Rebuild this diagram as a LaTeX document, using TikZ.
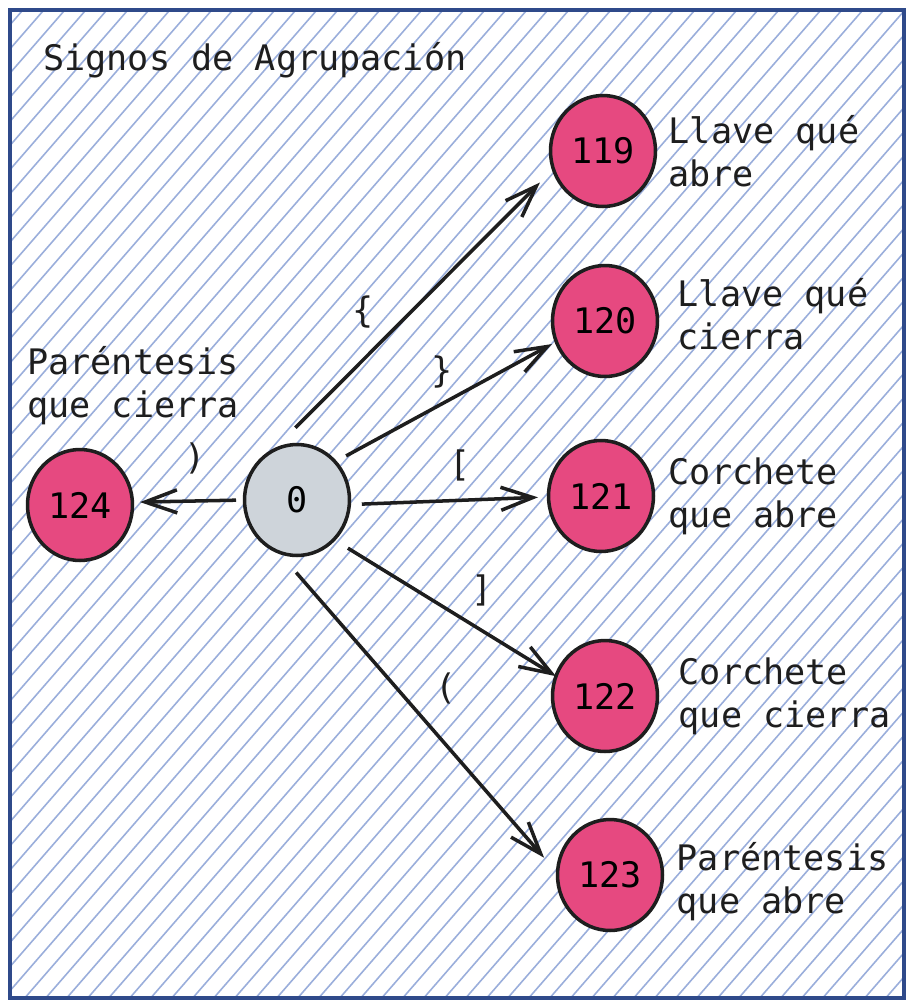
\documentclass[tikz,border=0pt]{standalone}
\usepackage{fontspec}
\setmonofont{DejaVu Sans Mono}
\usepackage{xcolor}
\usepackage{tikz}
\usetikzlibrary{positioning,arrows.meta,shapes.geometric}
\definecolor{ink}{HTML}{1E1E1E}
\definecolor{frameblue}{HTML}{2F4A8A}
\definecolor{hatchblue}{HTML}{9AAEDB}
\definecolor{signpink}{HTML}{E64980}
\definecolor{startgray}{HTML}{CED4DA}
\tikzset{
    statenode/.style={
        ellipse, draw=ink, fill=signpink, line width=2pt,
        minimum width=2.1cm, minimum height=2.22cm, inner sep=0pt, outer sep=0pt,
        font=\ttfamily\fontsize{20}{24}\selectfont
    },
    startnode/.style={statenode, fill=startgray},
    desc/.style={
        inner sep=0pt, align=left, text=ink,
        font=\ttfamily\fontsize{20}{24.5}\selectfont
    },
    sign/.style={inner sep=0pt, text=ink, font=\ttfamily\fontsize{20}{24}\selectfont},
    arrow/.style={-{Straight Barb[length=0.64cm, width=0.46cm]}, line width=2pt, color=ink},
}

\begin{document}
\begin{tikzpicture}[x=0.02cm, y=-0.02cm]
    \useasboundingbox (0,0) rectangle (914,1008);
    \fill[white] (0,0) rectangle (914,1008);
    \begin{scope}
        \clip (10,10) rectangle (904,998);
        \foreach \hx in {-880,-859,...,920}
            \draw[hatchblue, line width=0.9pt] (\hx,1000) -- ++(900,-1035);
    \end{scope}
    \draw[frameblue, line width=2pt] (10,10) rectangle (904,998);

    \node[desc, anchor=west] (title) at (43,60) {Signos de Agrupación};

    \node[startnode] (n0) at (297,500) {0};
    \node[statenode] (n119) at (603,151) {119};
    \node[statenode] (n120) at (605,321) {120};
    \node[statenode] (n121) at (601,496) {121};
    \node[statenode] (n122) at (605,696) {122};
    \node[statenode] (n123) at (610,875) {123};
    \node[statenode] (n124) at (80,505) {124};

    \node[desc, right=0.26cm of n119] (l119) {Llave qué\\abre};
    \node[desc, right=0.40cm of n120, yshift=0.14cm] (l120) {Llave qué\\cierra};
    \node[desc, right=0.3cm of n121] (l121) {Corchete\\que abre};
    \node[desc, right=0.42cm of n122] (l122) {Corchete\\que cierra};
    \node[desc, right=0.28cm of n123, yshift=-0.14cm] (l123) {Paréntesis\\que abre};
    \node[desc, anchor=west] (l124) at (27,386) {Paréntesis\\que cierra};

    \draw[arrow, shorten <=0.66cm, shorten >=0.38cm] (n0.117.5) -- (n119.200.4);
    \draw[arrow, shorten <=0.25cm, shorten >=0.1cm] (n0.45) -- (n120.203);
    \draw[arrow, shorten <=0.25cm, shorten >=0.21cm] (n0.355.2) -- (n121.181.7);
    \draw[arrow, shorten <=0.33cm] (n0.313.3) -- (n122.158.4);
    \draw[arrow, shorten <=0.55cm, shorten >=0.41cm] (n0.250.8) -- (n123.178.5);
    \draw[arrow, shorten <=0.17cm, shorten >=0.15cm] (n0.180) -- (n124.3);

    \node[sign] (lbrace) at (363,312) {\{};
    \node[sign] (rbrace) at (442,372) {\}};
    \node[sign] (lbrack) at (460,465) {[};
    \node[sign] (rbrack) at (482,590) {]};
    \node[sign] (lparen) at (446,688) {(};
    \node[sign] (rparen) at (195,458) {)};
\end{tikzpicture}
\end{document}
